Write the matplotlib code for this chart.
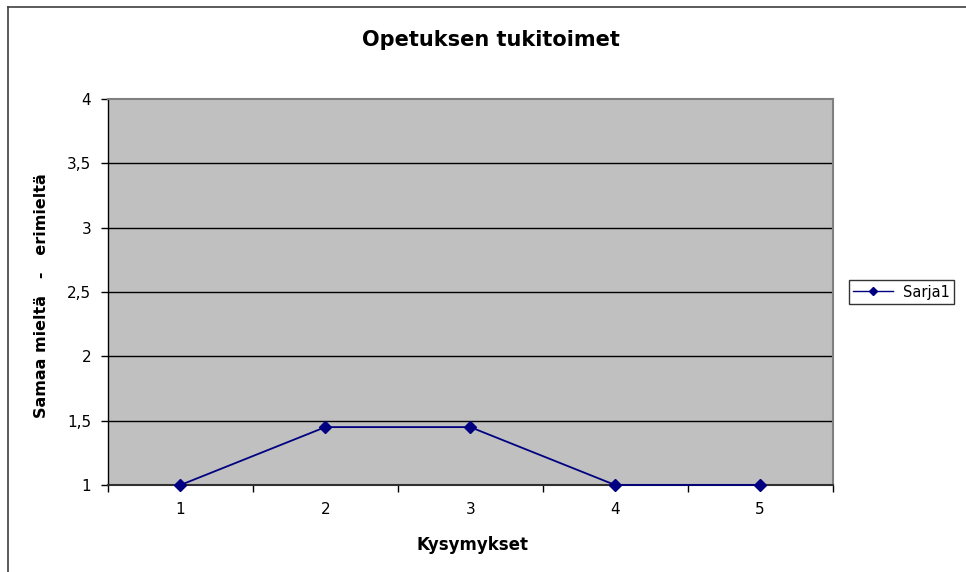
import matplotlib
matplotlib.use("Agg")
import matplotlib.pyplot as plt
from matplotlib.lines import Line2D

# DejaVu is wider than Arial, closer to the stretched look of the reference
plt.rcParams["font.family"] = ["DejaVu Sans"]

# data
questions = [1, 2, 3, 4, 5]
sarja1 = [1.0, 1.45, 1.45, 1.0, 1.0]
y_ticks = [1, 1.5, 2, 2.5, 3, 3.5, 4]
y_tick_labels = ["1", "1,5", "2", "2,5", "3", "3,5", "4"]

title = "Opetuksen tukitoimet"
x_label = "Kysymykset"
y_label = "Samaa mieltä   -   erimieltä"
series_name = "Sarja1"

NAVY = "#000080"

fig = plt.figure(figsize=(9.66, 5.72), dpi=100)
ax = fig.add_axes([108 / 966, 1 - 485 / 572, 724.5 / 966, 386 / 572])
ax.set_facecolor("#C0C0C0")

for yt in y_ticks[1:-1]:
    ax.axhline(yt, color="black", linewidth=1.0, zorder=1)

ax.plot(questions, sarja1, color=NAVY, linewidth=1.3, marker="D",
        markersize=6, markerfacecolor=NAVY, markeredgecolor=NAVY,
        zorder=3, clip_on=False)

ax.set_xlim(0.5, 5.5)
ax.set_ylim(1, 4)
ax.set_yticks(y_ticks)
ax.set_yticklabels(y_tick_labels, fontsize=11)
ax.set_xticks([q - 0.5 for q in questions] + [5.5])
ax.set_xticklabels([])
ax.set_xticks(questions, minor=True)
ax.set_xticklabels([str(q) for q in questions], minor=True, fontsize=11)
ax.tick_params(axis="x", which="minor", length=0, pad=12)
ax.tick_params(axis="x", which="major", length=5, width=1, color="black", direction="out")
ax.tick_params(axis="y", length=5, width=1, color="black", direction="out", pad=7)

for side in ("top", "right"):
    ax.spines[side].set_color("#808080")
    ax.spines[side].set_linewidth(1.5)
ax.spines["left"].set_color("black")
ax.spines["left"].set_linewidth(1.0)
ax.spines["bottom"].set_color("#303030")
ax.spines["bottom"].set_linewidth(1.5)

fig.text(491 / 966, 1 - 40 / 572, title, fontsize=15, fontweight="bold",
         ha="center", va="center")
fig.text(473 / 966, 1 - 545 / 572, x_label, fontsize=12, fontweight="bold",
         ha="center", va="center")
fig.text(42 / 966, 1 - 296 / 572, y_label, fontsize=11.5, fontweight="bold",
         ha="center", va="center", rotation=90)

handle = Line2D([], [], color=NAVY, linewidth=1.0, marker="D", markersize=4.5,
                markerfacecolor=NAVY, markeredgecolor=NAVY)
leg = fig.legend([handle], [series_name], loc="center left",
                 bbox_to_anchor=(849 / 966, 1 - 292 / 572), fontsize=10.5,
                 frameon=True, fancybox=False, handlelength=2.7,
                 borderpad=0.3, handletextpad=0.7, borderaxespad=0)
leg.get_frame().set_edgecolor("black")
leg.get_frame().set_linewidth(1.0)

# chart area border (only left and top visible in the reference)
fig.add_artist(Line2D([8 / 966, 8 / 966], [0, 1 - 7 / 572], color="#404040",
                      linewidth=1.2, transform=fig.transFigure))
fig.add_artist(Line2D([8 / 966, 1], [1 - 7 / 572, 1 - 7 / 572], color="#404040",
                      linewidth=1.2, transform=fig.transFigure))

fig.savefig("out.png", dpi=100)
